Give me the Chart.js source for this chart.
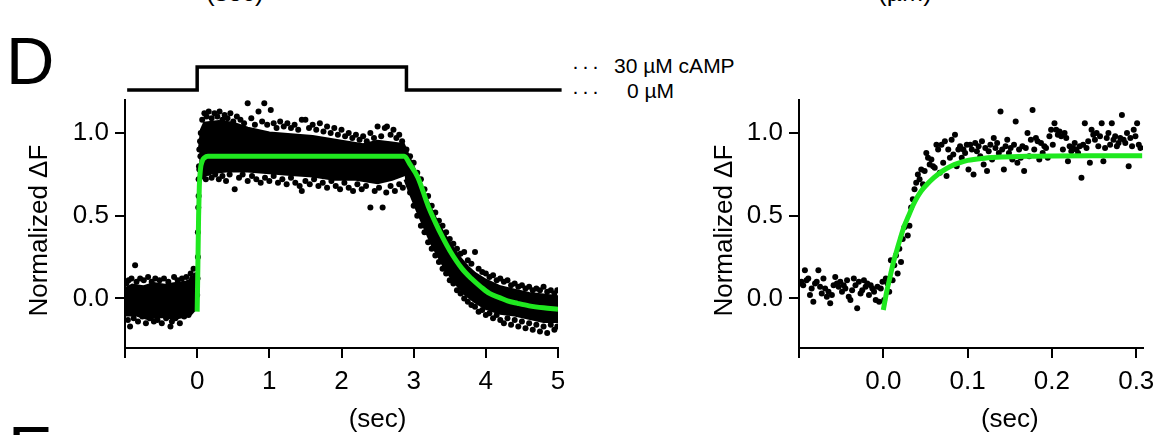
<!DOCTYPE html>
<html lang="en">
<head>
  <meta charset="UTF-8">
  <title>Normalized ΔF – 30 µM cAMP step</title>
  <script src="https://cdn.jsdelivr.net/npm/chart.js@4.4.0/dist/chart.umd.min.js"></script>
  <style>
    body { margin: 0; background: #fff; font-family: "Liberation Sans", Arial, Helvetica, sans-serif; }
    #wrap { position: relative; width: 1163px; height: 435px; overflow: hidden; background: #fff; }
    canvas { position: absolute; top: 0; }
    .txt { position: absolute; color: #000; white-space: nowrap; line-height: 1; }
  </style>
</head>
<body>
<div id="wrap">
  <div class="txt" style="left:206px; top:-21px; font-size:26px;">(sec)</div>
  <div class="txt" style="left:878px; top:-21px; font-size:26px;">(µM)</div>
  <div class="txt" style="left:6px; top:27px; font-size:67px;">D</div>
  <div class="txt" style="left:572px; top:55px; font-size:21px; letter-spacing:3px;">···</div>
  <div class="txt" style="left:614px; top:55px; font-size:21px;">30 µM cAMP</div>
  <div class="txt" style="left:572px; top:80px; font-size:21px; letter-spacing:3px;">···</div>
  <div class="txt" style="left:627px; top:80px; font-size:21px;">0 µM</div>
  <div class="txt" style="left:8px; top:416px; font-size:67px;">E</div>
  <canvas id="full" width="600" height="435" style="left:0"></canvas>
  <canvas id="zoomed" width="503" height="435" style="left:660px"></canvas>
</div>

<script>
const FONT = '"Liberation Sans", Arial, Helvetica, sans-serif';

// ---- left panel: whole 30 uM cAMP step (sec) ----
const fullXTicks = [-1, 0, 1, 2, 3, 4, 5];
const fullYTicks = [0, 0.5, 1.0];

// stimulus protocol drawn above the plot (0 uM -> 30 uM -> 0 uM)
const stepTrace = [[-0.97, 1.26], [0, 1.26], [0, 1.40], [2.9, 1.40], [2.9, 1.26], [5.05, 1.26]];

// single-exponential fit
const fullFit = [[0, -0.08], [0.01, 0.2], [0.02, 0.5], [0.03, 0.68], [0.045, 0.78], [0.07, 0.83], [0.1, 0.85],
  [0.15, 0.86], [2.87, 0.86], [2.95, 0.81], [3.06, 0.73], [3.2, 0.56], [3.3, 0.46], [3.4, 0.37], [3.5, 0.29],
  [3.67, 0.18], [3.8, 0.12], [3.93, 0.07], [4.05, 0.03], [4.19, 0.005], [4.3, -0.015], [4.44, -0.03],
  [4.6, -0.045], [4.8, -0.057], [5.0, -0.065]];

// outlines of the solid black parts of the dense point cloud
const baseCore = [[-0.99, 0.06], [-0.9, 0.08], [-0.75, 0.07], [-0.6, 0.09], [-0.45, 0.08], [-0.3, 0.09],
  [-0.15, 0.1], [-0.05, 0.12], [-0.02, 0.1], [-0.02, -0.06], [-0.1, -0.1], [-0.3, -0.12], [-0.5, -0.11],
  [-0.7, -0.12], [-0.85, -0.1], [-0.99, -0.1]];
const plateauCore = [[0.03, 0.9], [0.06, 1.02], [0.1, 1.06], [0.3, 1.07], [0.5, 1.06], [0.7, 1.03], [1.0, 1.0],
  [1.3, 0.99], [1.6, 0.98], [2.0, 0.95], [2.3, 0.93], [2.5, 0.95], [2.7, 0.94], [2.86, 0.93], [2.88, 0.75],
  [2.7, 0.72], [2.5, 0.7], [2.2, 0.72], [1.9, 0.72], [1.6, 0.74], [1.3, 0.75], [1.0, 0.76], [0.7, 0.77],
  [0.4, 0.77], [0.2, 0.76], [0.07, 0.74], [0.03, 0.7]];
const decayCore = [[2.86, 0.93], [2.95, 0.84], [3.05, 0.74], [3.15, 0.63], [3.25, 0.53], [3.35, 0.44],
  [3.45, 0.37], [3.55, 0.3], [3.65, 0.24], [3.75, 0.19], [3.85, 0.15], [4.0, 0.11], [4.2, 0.07], [4.4, 0.05],
  [4.6, 0.03], [4.8, 0.02], [4.99, 0.01], [4.99, -0.14], [4.8, -0.14], [4.6, -0.12], [4.4, -0.1], [4.2, -0.09],
  [4.0, -0.06], [3.85, -0.02], [3.7, 0.03], [3.55, 0.11], [3.45, 0.17], [3.35, 0.25], [3.25, 0.33],
  [3.15, 0.43], [3.05, 0.53], [2.95, 0.64], [2.88, 0.72]];

// single points round the edges of the cloud
const fullPoints = [
  [-0.98, 0.09], [-0.96, -0.13], [-0.95, 0.11], [-0.93, -0.17], [-0.91, 0.12], [-0.88, -0.12], [-0.86, 0.2],
  [-0.84, 0.1], [-0.82, -0.14], [-0.79, 0.12], [-0.76, -0.11], [-0.74, 0.11], [-0.71, -0.15], [-0.68, 0.13],
  [-0.66, -0.12], [-0.63, 0.1], [-0.6, -0.14], [-0.58, 0.12], [-0.55, -0.13], [-0.52, 0.11], [-0.49, -0.15],
  [-0.46, 0.12], [-0.43, -0.12], [-0.4, 0.1], [-0.37, -0.17], [-0.35, -0.14], [-0.32, 0.13], [-0.3, -0.12],
  [-0.27, 0.11], [-0.24, -0.15], [-0.21, 0.12], [-0.18, -0.11], [-0.15, 0.13], [-0.12, -0.1], [-0.09, 0.15],
  [-0.07, 0.12], [-0.05, 0.18], [-0.04, -0.06], [-0.02, 0.14],
  [0.0, 0.02], [0.005, 0.12], [0.01, 0.25], [0.01, 0.4], [0.015, 0.55], [0.02, 0.62], [0.02, 0.72],
  [0.025, 0.8], [0.03, 0.9], [0.03, 0.78], [0.04, 0.95], [0.045, 0.86], [0.05, 1.0],
  [0.07, 1.08], [0.1, 1.12], [0.13, 1.1], [0.16, 1.13], [0.2, 1.09], [0.24, 1.12], [0.28, 1.1], [0.31, 1.13],
  [0.35, 1.08], [0.38, 1.11], [0.42, 1.09], [0.46, 1.12], [0.5, 1.07], [0.55, 1.1], [0.6, 1.08], [0.65, 1.06],
  [0.7, 1.18], [0.75, 1.09], [0.8, 1.05], [0.85, 1.13], [0.9, 1.07], [0.93, 1.18], [0.97, 1.05], [1.02, 1.14],
  [1.06, 1.06], [1.1, 1.03], [1.15, 1.07], [1.2, 1.04], [1.25, 1.06], [1.3, 1.03], [1.35, 1.05], [1.4, 1.02],
  [1.45, 1.08], [1.5, 1.08], [1.55, 1.03], [1.6, 1.05], [1.65, 1.02], [1.7, 1.06], [1.75, 1.01], [1.8, 1.04],
  [1.85, 1.0], [1.9, 1.03], [1.95, 0.99], [2.0, 1.02], [2.05, 0.98], [2.1, 1.0], [2.15, 0.97], [2.2, 0.99],
  [2.25, 0.96], [2.3, 0.98], [2.35, 0.95], [2.4, 1.0], [2.45, 0.97], [2.5, 1.04], [2.55, 0.98], [2.6, 1.03],
  [2.63, 1.04], [2.68, 0.99], [2.72, 1.02], [2.76, 0.97], [2.8, 0.99], [2.84, 0.95],
  [0.08, 0.74], [0.12, 0.72], [0.16, 0.76], [0.2, 0.73], [0.25, 0.75], [0.3, 0.72], [0.35, 0.74], [0.4, 0.71],
  [0.45, 0.75], [0.52, 0.66], [0.58, 0.73], [0.63, 0.75], [0.7, 0.71], [0.76, 0.74], [0.82, 0.72], [0.88, 0.7],
  [0.94, 0.73], [1.0, 0.71], [1.06, 0.74], [1.12, 0.7], [1.18, 0.72], [1.24, 0.69], [1.3, 0.73], [1.36, 0.7],
  [1.42, 0.68], [1.45, 0.65], [1.5, 0.71], [1.56, 0.69], [1.62, 0.72], [1.68, 0.68], [1.74, 0.7], [1.8, 0.67],
  [1.86, 0.71], [1.92, 0.68], [1.98, 0.66], [2.04, 0.7], [2.1, 0.67], [2.16, 0.65], [2.22, 0.69], [2.28, 0.66],
  [2.34, 0.68], [2.4, 0.55], [2.46, 0.65], [2.52, 0.67], [2.57, 0.55], [2.62, 0.64], [2.68, 0.68], [2.74, 0.65],
  [2.8, 0.69], [2.85, 0.67],
  [2.9, 0.9], [2.95, 0.86], [3.0, 0.82], [3.05, 0.76], [3.1, 0.72], [3.15, 0.66], [3.2, 0.62], [3.25, 0.56],
  [3.3, 0.52], [3.35, 0.47], [3.4, 0.44], [3.45, 0.4], [3.5, 0.36], [3.55, 0.33], [3.6, 0.3], [3.65, 0.27],
  [3.7, 0.28], [3.75, 0.23], [3.8, 0.21], [3.85, 0.28], [3.9, 0.18], [3.95, 0.16], [4.0, 0.15], [4.05, 0.13],
  [4.1, 0.14], [4.15, 0.11], [4.2, 0.12], [4.25, 0.1], [4.3, 0.11], [4.35, 0.08], [4.4, 0.09], [4.45, 0.07],
  [4.5, 0.08], [4.55, 0.06], [4.6, 0.07], [4.65, 0.05], [4.7, 0.06], [4.75, 0.05], [4.8, 0.07], [4.85, 0.04],
  [4.9, 0.05], [4.95, 0.03], [4.99, 0.05],
  [2.95, 0.64], [3.0, 0.56], [3.05, 0.5], [3.1, 0.44], [3.15, 0.4], [3.2, 0.34], [3.25, 0.3], [3.3, 0.26],
  [3.35, 0.22], [3.4, 0.18], [3.45, 0.15], [3.5, 0.11], [3.55, 0.09], [3.6, 0.05], [3.65, 0.03], [3.7, 0.0],
  [3.75, -0.02], [3.8, -0.04], [3.85, -0.05], [3.9, -0.08], [3.95, -0.07], [4.0, -0.1], [4.05, -0.09],
  [4.1, -0.12], [4.15, -0.1], [4.2, -0.13], [4.25, -0.15], [4.3, -0.12], [4.35, -0.16], [4.4, -0.13],
  [4.45, -0.17], [4.5, -0.14], [4.55, -0.18], [4.6, -0.15], [4.65, -0.19], [4.7, -0.16], [4.75, -0.2],
  [4.8, -0.17], [4.85, -0.21], [4.9, -0.16], [4.95, -0.19], [4.99, -0.17]
];

// ---- right panel: onset on a fast time base (sec) ----
const zoomXTicks = [-0.1, 0.0, 0.1, 0.2, 0.3];
const zoomYTicks = [0, 0.5, 1.0];

const zoomFit = [[0, -0.07], [0.004, 0.04], [0.008, 0.13], [0.012, 0.22], [0.016, 0.29], [0.02, 0.36],
  [0.025, 0.44], [0.03, 0.5], [0.035, 0.56], [0.04, 0.61], [0.045, 0.65], [0.05, 0.68], [0.06, 0.73],
  [0.07, 0.77], [0.08, 0.8], [0.09, 0.82], [0.1, 0.835], [0.12, 0.848], [0.14, 0.855], [0.17, 0.86],
  [0.2, 0.862], [0.25, 0.863], [0.307, 0.863]];

const zoomPoints = [
  [-0.099, 0.09], [-0.097, 0.1], [-0.095, 0.08], [-0.093, 0.17], [-0.091, 0.11], [-0.089, 0.12], [-0.087, 0.02],
  [-0.085, 0.06], [-0.083, -0.02], [-0.081, 0.09], [-0.079, 0.1], [-0.077, 0.17], [-0.075, 0.07], [-0.073, 0.03],
  [-0.071, 0.12], [-0.069, 0.06], [-0.067, 0.01], [-0.065, 0.04], [-0.063, -0.03], [-0.061, 0.02], [-0.059, 0.08],
  [-0.057, 0.13], [-0.055, 0.09], [-0.053, 0.07], [-0.051, 0.1], [-0.049, 0.04], [-0.047, 0.08], [-0.045, 0.06],
  [-0.043, 0.11], [-0.041, 0.01], [-0.039, -0.01], [-0.037, 0.05], [-0.035, 0.12], [-0.033, 0.08], [-0.031, -0.06],
  [-0.029, 0.1], [-0.027, 0.03], [-0.025, 0.05], [-0.023, 0.11], [-0.021, 0.07], [-0.019, 0.09], [-0.017, 0.02],
  [-0.015, 0.08], [-0.013, 0.06], [-0.011, 0.04], [-0.009, -0.01], [-0.007, 0.07], [-0.005, -0.02], [-0.003, 0.06],
  [-0.001, 0.1],
  [0.001, -0.01], [0.003, 0.12], [0.005, 0.09], [0.007, 0.04], [0.009, 0.23], [0.011, 0.11], [0.013, 0.2],
  [0.015, 0.26], [0.017, 0.15], [0.019, 0.3], [0.021, 0.22], [0.023, 0.36], [0.025, 0.43], [0.027, 0.44],
  [0.029, 0.38], [0.031, 0.44], [0.033, 0.55], [0.035, 0.6], [0.037, 0.66], [0.039, 0.7], [0.041, 0.75],
  [0.043, 0.72], [0.045, 0.78], [0.047, 0.69], [0.049, 0.77], [0.051, 0.88], [0.053, 0.85], [0.055, 0.81],
  [0.057, 0.84], [0.059, 0.8], [0.061, 0.79], [0.063, 0.93], [0.065, 0.9], [0.067, 0.76], [0.069, 0.93],
  [0.071, 0.82], [0.073, 0.95], [0.075, 0.74], [0.077, 0.9], [0.079, 0.85],
  [0.081, 0.96], [0.083, 0.87], [0.085, 0.99], [0.087, 0.8], [0.089, 0.9], [0.091, 0.92], [0.093, 0.85],
  [0.095, 0.9], [0.097, 0.88], [0.099, 0.93], [0.101, 0.78], [0.103, 0.93], [0.105, 0.9], [0.107, 0.75],
  [0.109, 0.94], [0.111, 0.89], [0.113, 0.92], [0.115, 0.86], [0.117, 0.95], [0.119, 0.81], [0.121, 0.91],
  [0.123, 0.77], [0.125, 0.89], [0.127, 0.93], [0.129, 0.84], [0.131, 0.97], [0.133, 0.91], [0.135, 0.94],
  [0.137, 0.88], [0.139, 1.13], [0.141, 0.9], [0.143, 0.78], [0.145, 0.92], [0.147, 0.96], [0.149, 0.88],
  [0.151, 0.91], [0.153, 0.84], [0.155, 0.93], [0.157, 1.07], [0.159, 0.82], [0.161, 0.9], [0.163, 0.85],
  [0.165, 0.92], [0.167, 0.77], [0.169, 0.91], [0.171, 1.0], [0.173, 0.86], [0.175, 0.96], [0.177, 1.14],
  [0.179, 0.9], [0.181, 0.97], [0.183, 0.95], [0.185, 0.84], [0.187, 0.94], [0.189, 0.88], [0.191, 0.92],
  [0.193, 0.91], [0.195, 0.85], [0.197, 0.98], [0.199, 1.02], [0.201, 0.93], [0.203, 1.06], [0.205, 1.02],
  [0.207, 0.99], [0.209, 1.01], [0.211, 0.98], [0.213, 0.9], [0.215, 1.0], [0.217, 0.97], [0.219, 0.83],
  [0.221, 0.92], [0.223, 0.89], [0.225, 0.91], [0.227, 0.94], [0.229, 0.9], [0.231, 0.88], [0.233, 0.92],
  [0.235, 0.73], [0.237, 0.93], [0.239, 1.06], [0.241, 0.91], [0.243, 0.95], [0.245, 0.82], [0.247, 1.02],
  [0.249, 0.99], [0.251, 0.96], [0.253, 1.0], [0.255, 0.92], [0.257, 0.98], [0.259, 1.06], [0.261, 0.83],
  [0.263, 0.91], [0.265, 0.97], [0.267, 1.0], [0.269, 0.93], [0.271, 1.06], [0.273, 0.96], [0.275, 0.98],
  [0.277, 0.92], [0.279, 0.94], [0.281, 0.97], [0.283, 1.11], [0.285, 0.96], [0.287, 0.94], [0.289, 1.0],
  [0.291, 0.8], [0.293, 0.97], [0.295, 0.92], [0.297, 1.02], [0.299, 0.98], [0.301, 1.06], [0.303, 0.93],
  [0.305, 0.91]
];

const GREEN = '#1fe81f';

// draws "(sec)" and "Normalized ΔF" where the figure has them
const axisTitles = {
  id: 'axisTitles',
  afterDraw(chart, args, o) {
    const { ctx, scales: { x, y } } = chart;
    ctx.save();
    ctx.fillStyle = '#000';
    ctx.font = '26px ' + FONT;
    ctx.textAlign = 'center';
    ctx.textBaseline = 'middle';
    ctx.fillText('(sec)', x.getPixelForValue(o.xAt), o.xTitleY);
    ctx.translate(o.yTitleX, y.getPixelForValue(o.yAt));
    ctx.rotate(-Math.PI / 2);
    ctx.fillText('Normalized ΔF', 0, 0);
    ctx.restore();
  }
};

function axis(min, max, ticks, fmt, isX, size) {
  return {
    type: 'linear', min, max,
    afterBuildTicks: s => { s.ticks = ticks.map(v => ({ value: v })); },
    afterFit: s => { if (isX) s.height = size; else s.width = size; },
    grid: { drawOnChartArea: false, drawTicks: true, tickLength: 10, color: '#000', lineWidth: 2 },
    border: { display: true, color: '#000', width: 2 },
    ticks: { color: '#000', font: { size: 26, family: FONT }, padding: isX ? 8 : 6, maxRotation: 0,
      autoSkip: false, callback: fmt }
  };
}

function makePanel(id, cfg) {
  const datasets = [
    { type: 'line', data: cfg.fit, borderColor: GREEN, borderWidth: 5, pointRadius: 0,
      cubicInterpolationMode: 'monotone', fill: false },
    { data: cfg.points, pointRadius: 3, pointBackgroundColor: '#000', pointBorderWidth: 0 }
  ];
  (cfg.cores || []).forEach(c => datasets.push({
    type: 'line', data: c, fill: 'shape', backgroundColor: '#000', borderColor: '#000', borderWidth: 3,
    pointRadius: 0
  }));
  if (cfg.step) datasets.push({ type: 'line', data: cfg.step, borderColor: '#000', borderWidth: 3.5,
    pointRadius: 0, fill: false, clip: false, borderJoinStyle: 'miter' });

  new Chart(document.getElementById(id), {
    type: 'scatter',
    data: { datasets },
    options: {
      responsive: false, animation: false, devicePixelRatio: 1,
      layout: { padding: { left: 0, top: 100, right: cfg.padRight, bottom: 0 } },
      plugins: { legend: { display: false }, tooltip: { enabled: false }, axisTitles: cfg.titles },
      scales: {
        x: axis(cfg.xMin, cfg.xMax, cfg.xTicks, cfg.xFmt, true, 87),
        y: axis(-0.3, 1.2, cfg.yTicks, v => v.toFixed(1), false, cfg.yWidth)
      }
    },
    plugins: [axisTitles]
  });
}

makePanel('full', {
  fit: fullFit, points: fullPoints, cores: [baseCore, plateauCore, decayCore], step: stepTrace,
  xMin: -1, xMax: 5, xTicks: fullXTicks, yTicks: fullYTicks,
  xFmt: v => (v < 0 ? '' : String(v)), yWidth: 125, padRight: 42,
  titles: { xAt: 2.5, xTitleY: 420, yTitleX: 40, yAt: 0.41 }
});

makePanel('zoomed', {
  fit: zoomFit, points: zoomPoints,
  xMin: -0.1, xMax: 0.308, xTicks: zoomXTicks, yTicks: zoomYTicks,
  xFmt: v => (v < 0 ? '' : v.toFixed(1)), yWidth: 139, padRight: 20,
  titles: { xAt: 0.15, xTitleY: 420, yTitleX: 65, yAt: 0.41 }
});
</script>
</body>
</html>
